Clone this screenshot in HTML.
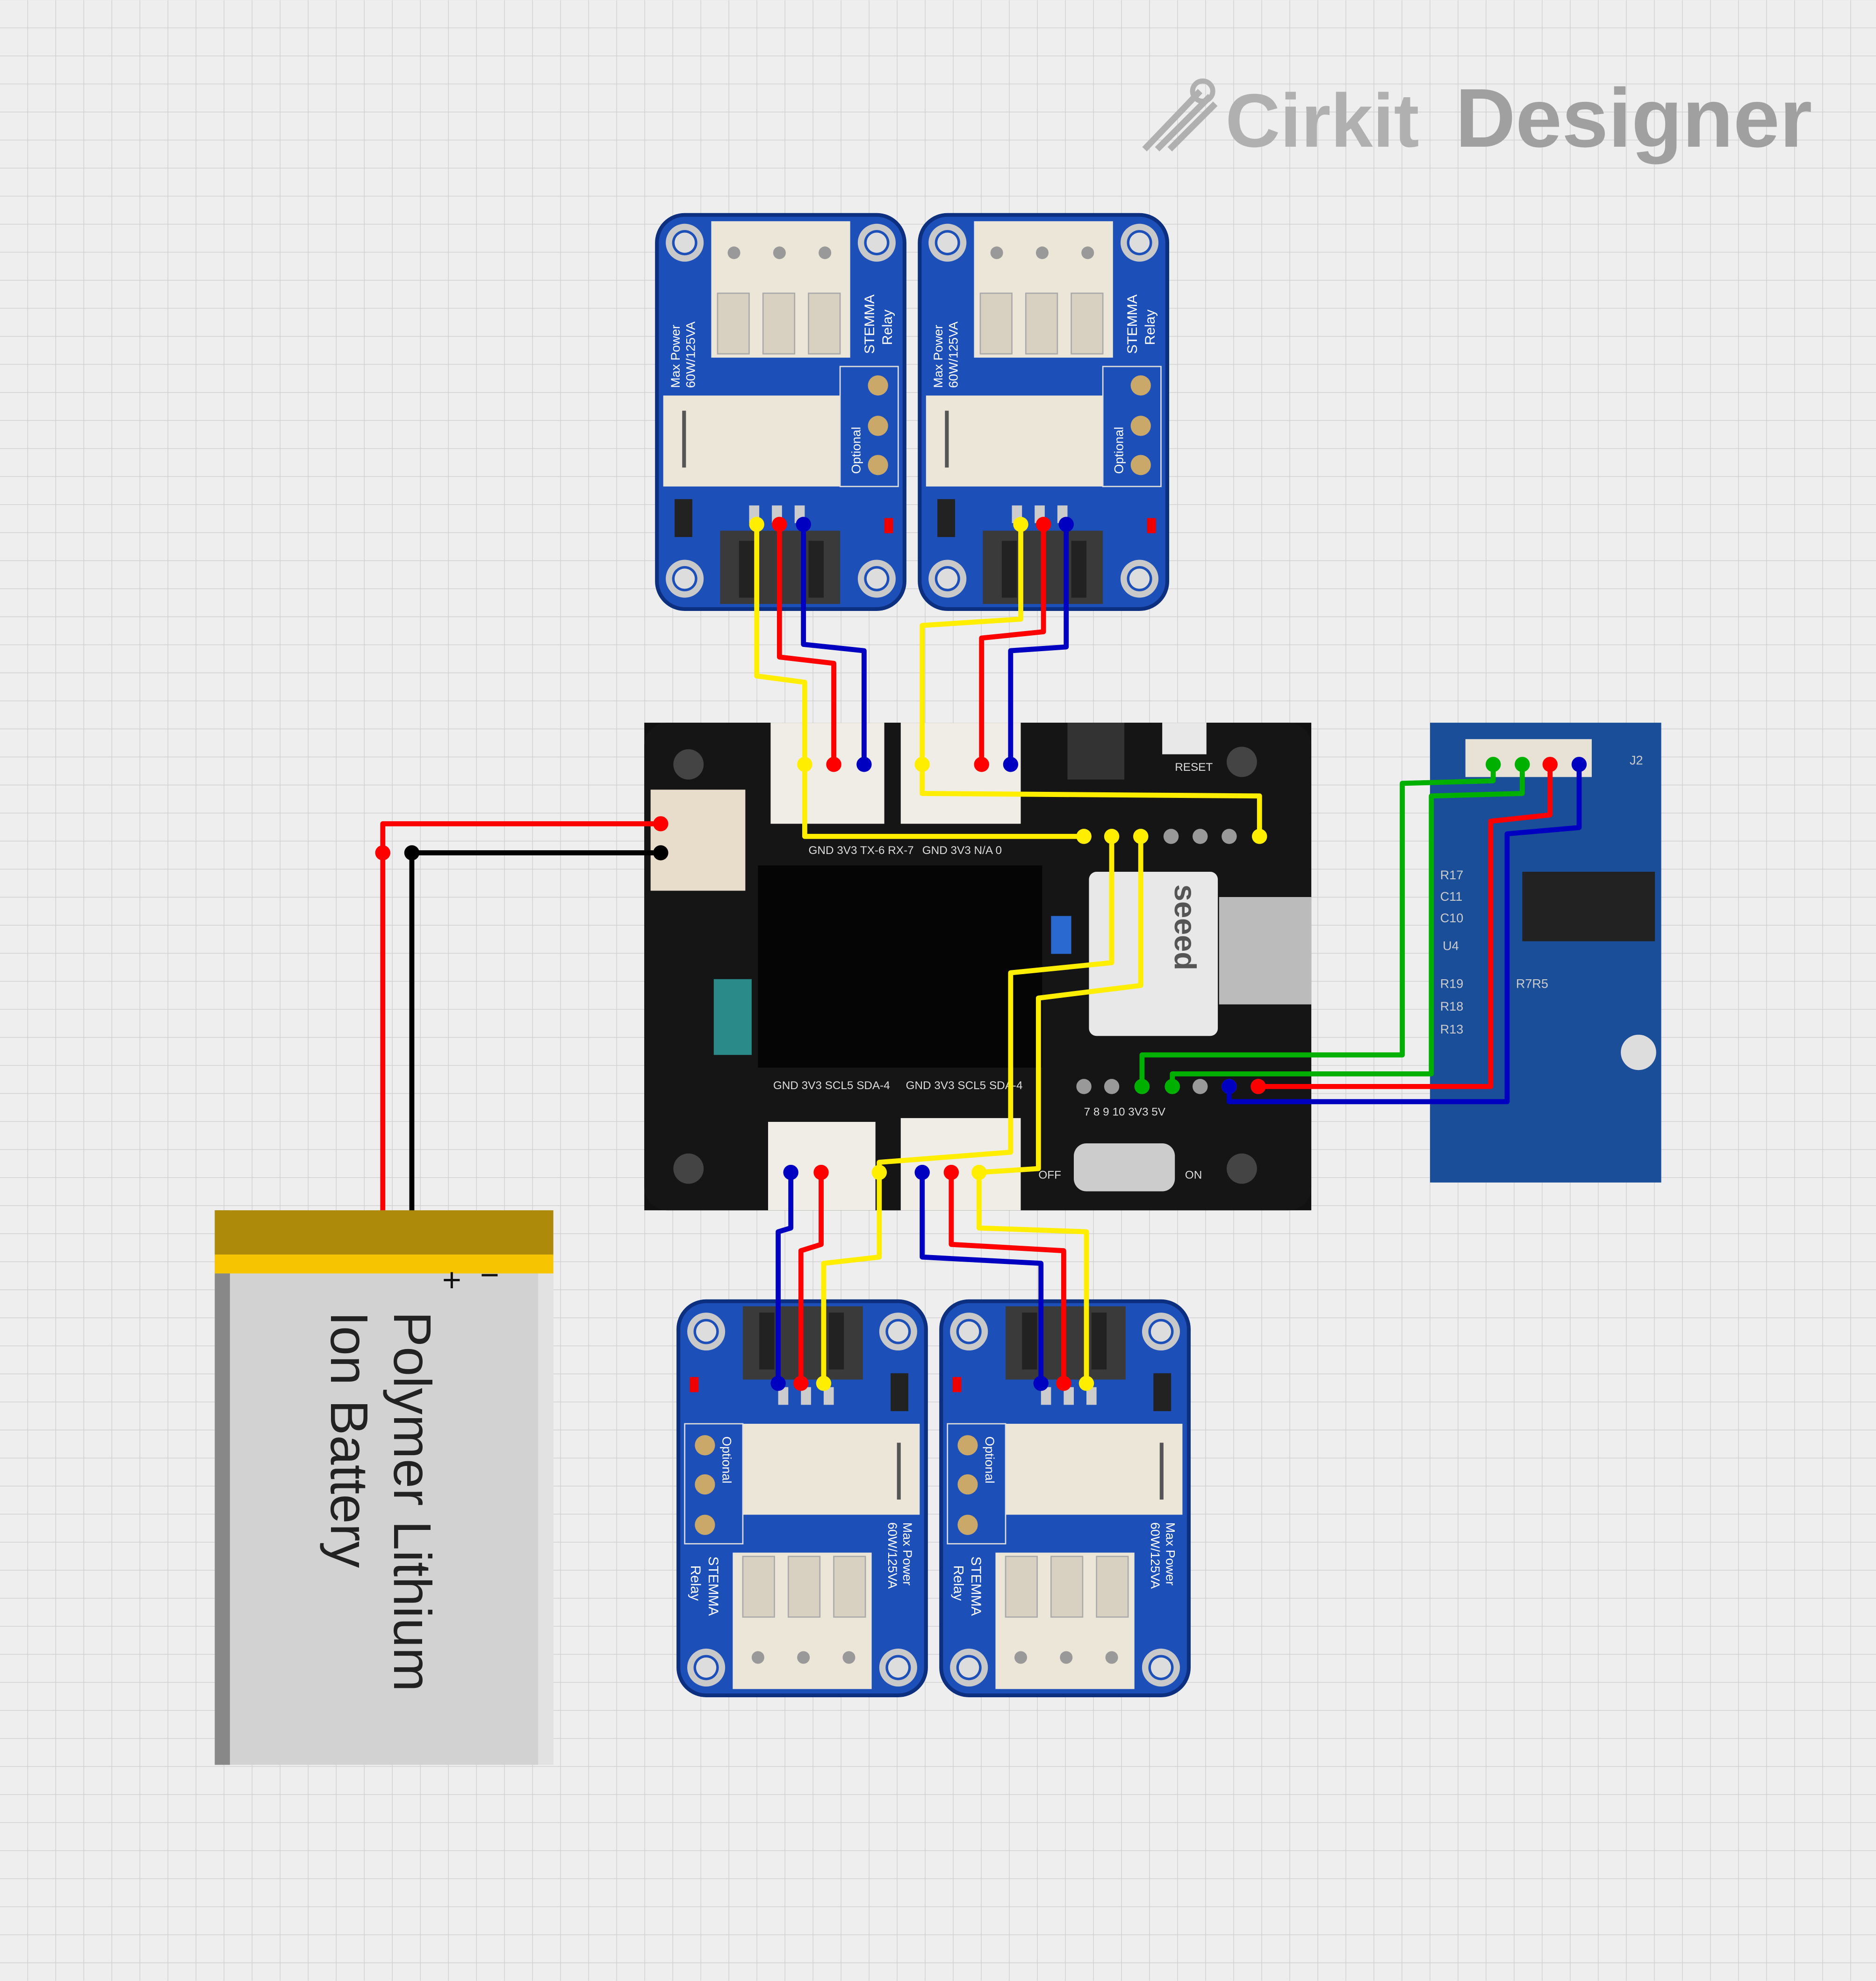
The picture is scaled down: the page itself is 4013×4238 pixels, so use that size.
<!DOCTYPE html>
<html><head><meta charset="utf-8"><style>
html,body{margin:0;padding:0;background:#eeeeee}
svg{display:block}
</style></head><body>
<svg width="4013" height="4238" viewBox="0 0 1485 1568" xmlns="http://www.w3.org/2000/svg" font-family="Liberation Sans, sans-serif">
<defs>
<pattern id="g" width="22.2" height="22.2" patternUnits="userSpaceOnUse">
<path d="M22.2 0V22.2H0" fill="none" stroke="#cfcfcf" stroke-width="1"/>
</pattern>
<g id="relay">
 <rect x="0" y="0" width="196" height="312" rx="22" fill="#1d4fb8" stroke="#0d2f80" stroke-width="3"/>
 <circle cx="22" cy="22" r="15" fill="#c9c9c9"/><circle cx="22" cy="22" r="10" fill="#1d4fb8"/><circle cx="22" cy="22" r="8" fill="#ddd"/>
 <circle cx="174" cy="22" r="15" fill="#c9c9c9"/><circle cx="174" cy="22" r="10" fill="#1d4fb8"/><circle cx="174" cy="22" r="8" fill="#ddd"/>
 <circle cx="22" cy="288" r="15" fill="#c9c9c9"/><circle cx="22" cy="288" r="10" fill="#1d4fb8"/><circle cx="22" cy="288" r="8" fill="#ddd"/>
 <circle cx="174" cy="288" r="15" fill="#c9c9c9"/><circle cx="174" cy="288" r="10" fill="#1d4fb8"/><circle cx="174" cy="288" r="8" fill="#ddd"/>
 <rect x="43" y="5" width="110" height="108" fill="#ece6d8"/>
 <rect x="48" y="62" width="25" height="48" fill="#d8d0c0" stroke="#aaa"/><rect x="84" y="62" width="25" height="48" fill="#d8d0c0" stroke="#aaa"/><rect x="120" y="62" width="25" height="48" fill="#d8d0c0" stroke="#aaa"/>
 <circle cx="61" cy="30" r="5" fill="#999"/><circle cx="97" cy="30" r="5" fill="#999"/><circle cx="133" cy="30" r="5" fill="#999"/>
 <rect x="5" y="143" width="140" height="72" fill="#ece6d8"/>
 <rect x="20" y="155" width="3" height="45" fill="#555"/>
 <rect x="145" y="120" width="46" height="95" fill="#1d4fb8" stroke="#ddd"/>
 <circle cx="175" cy="135" r="8" fill="#c9a86a"/><circle cx="175" cy="167" r="8" fill="#c9a86a"/><circle cx="175" cy="198" r="8" fill="#c9a86a"/>
 <text x="0" y="0" transform="translate(161,205) rotate(-90)" font-size="10" fill="#fff">Optional</text>
 <text x="0" y="0" transform="translate(172,110) rotate(-90)" font-size="11" fill="#fff">STEMMA</text>
 <text x="0" y="0" transform="translate(186,103) rotate(-90)" font-size="11" fill="#fff">Relay</text>
 <text x="0" y="0" transform="translate(18,137) rotate(-90)" font-size="10" fill="#fff">Max Power</text>
 <text x="0" y="0" transform="translate(30,137) rotate(-90)" font-size="10" fill="#fff">60W/125VA</text>
 <rect x="50" y="250" width="95" height="58" fill="#3a3a3a"/>
 <rect x="65" y="258" width="12" height="45" fill="#222"/><rect x="120" y="258" width="12" height="45" fill="#222"/>
 <rect x="14" y="225" width="14" height="30" fill="#222"/>
 <rect x="180" y="240" width="7" height="12" fill="#e00"/>
 <rect x="73" y="230" width="8" height="14" fill="#ccc"/><rect x="91" y="230" width="8" height="14" fill="#ccc"/><rect x="109" y="230" width="8" height="14" fill="#ccc"/>
</g>
</defs>
<rect width="1485" height="1568" fill="#eeeeee"/>
<rect width="1485" height="1568" fill="url(#g)"/>

<g fill="#a8a8a8">
<path d="M906 118 L950 72 M916 118 L958 76 M926 118 L962 82" stroke="#b0b0b0" stroke-width="5"/>
<circle cx="952" cy="72" r="8" fill="none" stroke="#b0b0b0" stroke-width="4"/>
<text x="970" y="116" font-size="60" font-weight="bold" fill="#b0b0b0">Cirkit</text>
<text x="1152" y="116" font-size="66" font-weight="bold" fill="#a0a0a0">Designer</text>
</g>

<use href="#relay" x="520" y="170"/>
<use href="#relay" x="728" y="170"/>
<use href="#relay" transform="translate(733,1342) rotate(180)"/>
<use href="#relay" transform="translate(941,1342) rotate(180)"/>

<rect x="510" y="572" width="528" height="386" fill="#111"/>
<rect x="510" y="572" width="528" height="386" rx="18" fill="#151515"/>
<circle cx="545" cy="605" r="12" fill="#444"/><circle cx="983" cy="603" r="12" fill="#444"/>
<circle cx="545" cy="925" r="12" fill="#444"/><circle cx="983" cy="925" r="12" fill="#444"/>
<rect x="600" y="685" width="225" height="160" fill="#050505"/>
<rect x="515" y="625" width="75" height="80" fill="#e8dccb"/>
<rect x="610" y="572" width="90" height="80" fill="#f0ece6"/>
<rect x="713" y="572" width="95" height="80" fill="#f0ece6"/>
<rect x="608" y="888" width="85" height="70" fill="#f0ece6"/>
<rect x="713" y="885" width="95" height="73" fill="#f0ece6"/>
<rect x="845" y="572" width="45" height="45" fill="#333"/>
<rect x="920" y="572" width="35" height="25" fill="#e8e8e8"/>
<rect x="862" y="690" width="102" height="130" rx="6" fill="#e8e8e8"/>
<text x="0" y="0" transform="translate(930,700) rotate(90)" font-size="24" font-weight="bold" fill="#555">seeed</text>
<rect x="965" y="710" width="73" height="85" fill="#bbb"/>
<rect x="850" y="905" width="80" height="38" rx="10" fill="#ccc"/>
<rect x="565" y="775" width="30" height="60" fill="#2a8a8a"/>
<rect x="832" y="725" width="16" height="30" fill="#2a6ad0"/>
<g fill="#999"><circle cx="858" cy="662" r="6"/><circle cx="880" cy="662" r="6"/><circle cx="903" cy="662" r="6"/><circle cx="927" cy="662" r="6"/><circle cx="950" cy="662" r="6"/><circle cx="973" cy="662" r="6"/><circle cx="997" cy="662" r="6"/>
<circle cx="858" cy="860" r="6"/><circle cx="880" cy="860" r="6"/><circle cx="904" cy="860" r="6"/><circle cx="928" cy="860" r="6"/><circle cx="950" cy="860" r="6"/><circle cx="973" cy="860" r="6"/><circle cx="996" cy="860" r="6"/></g>
<g fill="#ddd" font-size="9">
<text x="640" y="676">GND 3V3 TX-6 RX-7</text><text x="730" y="676">GND 3V3 N/A 0</text>
<text x="612" y="862">GND 3V3 SCL5 SDA-4</text><text x="717" y="862">GND 3V3 SCL5 SDA-4</text>
<text x="858" y="883">7  8  9  10  3V3  5V</text>
<text x="930" y="610">RESET</text><text x="822" y="933">OFF</text><text x="938" y="933">ON</text>
</g>

<rect x="1132" y="572" width="183" height="364" fill="#1b4e98"/>
<rect x="1160" y="585" width="100" height="30" fill="#e8e2d6"/>
<circle cx="1297" cy="833" r="14" fill="#ddd"/>
<rect x="1205" y="690" width="105" height="55" fill="#222"/>
<g fill="#ccc" font-size="10"><text x="1140" y="696">R17</text><text x="1140" y="713">C11</text><text x="1140" y="730">C10</text><text x="1142" y="752">U4</text><text x="1140" y="782">R19</text><text x="1140" y="800">R18</text><text x="1140" y="818">R13</text><text x="1200" y="782">R7R5</text><text x="1290" y="605">J2</text></g>

<rect x="170" y="958" width="268" height="439" fill="#d2d2d2"/>
<rect x="170" y="958" width="12" height="439" fill="#888"/>
<rect x="426" y="958" width="12" height="439" fill="#e2e2e2"/>
<rect x="170" y="958" width="268" height="36" fill="#ad8a0a"/>
<rect x="170" y="993" width="268" height="15" fill="#f6c400"/>
<text x="350" y="1022" font-size="26" fill="#111">+</text>
<text x="380" y="1018" font-size="26" fill="#111">−</text>
<text x="0" y="0" transform="translate(312,1038) rotate(90)" font-size="42" fill="#222">Polymer Lithium</text>
<text x="0" y="0" transform="translate(262,1038) rotate(90)" font-size="42" fill="#222">Ion Battery</text>

<g fill="none" stroke-width="4" stroke-linejoin="round">
<polyline stroke="#f00" points="303,958 303,652 523,652"/>
<polyline stroke="#000" points="326,958 326,675 523,675"/>
<polyline stroke="#ffee00" points="599,415 599,535 637,540 637,662 858,662"/>
<polyline stroke="#f00" points="617,415 617,520 660,525 660,605"/>
<polyline stroke="#0000c0" points="636,415 636,510 684,515 684,605"/>
<polyline stroke="#ffee00" points="808,415 808,490 730,495 730,628 997,630 997,662"/>
<polyline stroke="#f00" points="826,415 826,500 777,505 777,605"/>
<polyline stroke="#0000c0" points="844,415 844,512 800,515 800,605"/>
<polyline stroke="#ffee00" points="880,662 880,762 800,770 800,912 696,920 696,995 652,1000 652,1095"/>
<polyline stroke="#ffee00" points="903,662 903,780 822,790 822,925 775,928 775,972 860,975 860,1095"/>
<polyline stroke="#0000c0" points="626,928 626,972 616,975 616,1095"/>
<polyline stroke="#f00" points="650,928 650,985 634,990 634,1095"/>
<polyline stroke="#0000c0" points="730,928 730,995 824,1000 824,1095"/>
<polyline stroke="#f00" points="753,928 753,985 842,990 842,1095"/>
<polyline stroke="#00b000" points="904,860 904,835 1110,835 1110,620 1182,618 1182,605"/>
<polyline stroke="#00b000" points="928,860 928,850 1133,850 1133,630 1205,628 1205,605"/>
<polyline stroke="#f00" points="996,860 1180,860 1180,650 1227,645 1227,605"/>
<polyline stroke="#0000c0" points="973,860 973,872 1193,872 1193,660 1250,655 1250,605"/>
</g>
<g>
<circle cx="303" cy="675" r="6" fill="#f00"/><circle cx="523" cy="652" r="6" fill="#f00"/><circle cx="326" cy="675" r="6" fill="#000"/><circle cx="523" cy="675" r="6" fill="#000"/>
<circle cx="599" cy="415" r="6" fill="#ffee00"/><circle cx="617" cy="415" r="6" fill="#f00"/><circle cx="636" cy="415" r="6" fill="#0000c0"/>
<circle cx="808" cy="415" r="6" fill="#ffee00"/><circle cx="826" cy="415" r="6" fill="#f00"/><circle cx="844" cy="415" r="6" fill="#0000c0"/>
<circle cx="637" cy="605" r="6" fill="#ffee00"/><circle cx="660" cy="605" r="6" fill="#f00"/><circle cx="684" cy="605" r="6" fill="#0000c0"/>
<circle cx="730" cy="605" r="6" fill="#ffee00"/><circle cx="777" cy="605" r="6" fill="#f00"/><circle cx="800" cy="605" r="6" fill="#0000c0"/>
<circle cx="858" cy="662" r="6" fill="#ffee00"/><circle cx="880" cy="662" r="6" fill="#ffee00"/><circle cx="903" cy="662" r="6" fill="#ffee00"/><circle cx="997" cy="662" r="6" fill="#ffee00"/>
<circle cx="626" cy="928" r="6" fill="#0000c0"/><circle cx="650" cy="928" r="6" fill="#f00"/><circle cx="696" cy="928" r="6" fill="#ffee00"/>
<circle cx="730" cy="928" r="6" fill="#0000c0"/><circle cx="753" cy="928" r="6" fill="#f00"/><circle cx="775" cy="928" r="6" fill="#ffee00"/>
<circle cx="616" cy="1095" r="6" fill="#0000c0"/><circle cx="634" cy="1095" r="6" fill="#f00"/><circle cx="652" cy="1095" r="6" fill="#ffee00"/>
<circle cx="824" cy="1095" r="6" fill="#0000c0"/><circle cx="842" cy="1095" r="6" fill="#f00"/><circle cx="860" cy="1095" r="6" fill="#ffee00"/>
<circle cx="904" cy="860" r="6" fill="#00b000"/><circle cx="928" cy="860" r="6" fill="#00b000"/><circle cx="973" cy="860" r="6" fill="#0000c0"/><circle cx="996" cy="860" r="6" fill="#f00"/>
<circle cx="1182" cy="605" r="6" fill="#00b000"/><circle cx="1205" cy="605" r="6" fill="#00b000"/><circle cx="1227" cy="605" r="6" fill="#f00"/><circle cx="1250" cy="605" r="6" fill="#0000c0"/>
</g>
</svg>
</body></html>
